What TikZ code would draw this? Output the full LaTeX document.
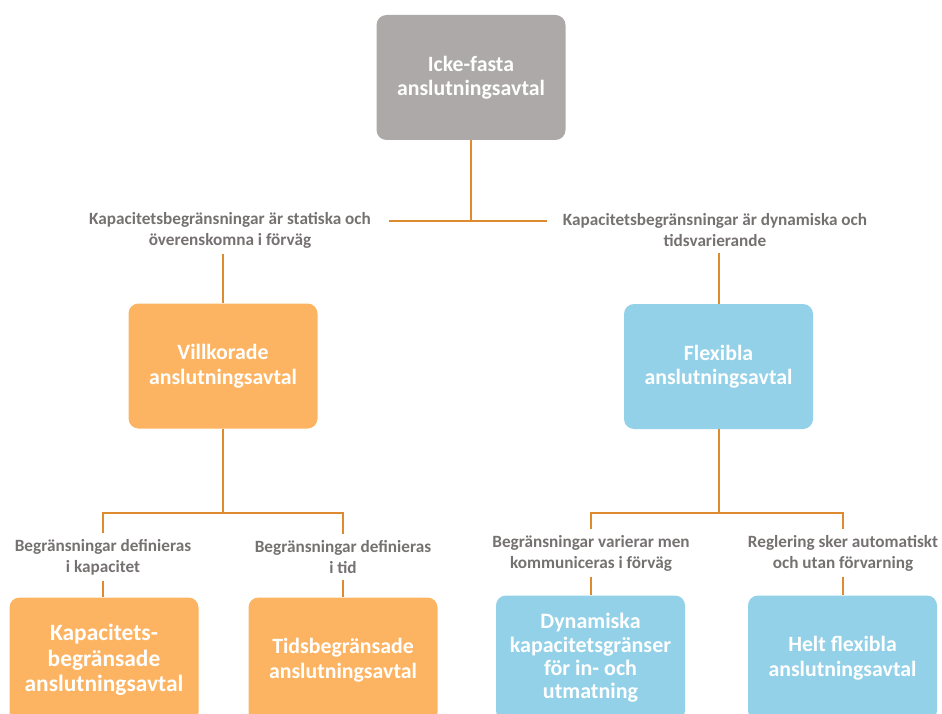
\documentclass[tikz,border=0pt]{standalone}
\usepackage{fontspec}
\setmainfont{Carlito}
\definecolor{boxgray}{HTML}{ADA9A8}
\definecolor{boxorange}{HTML}{FDB462}
\definecolor{boxblue}{HTML}{93D1E9}
\definecolor{linkorange}{HTML}{DE8A30}
\definecolor{labgray}{HTML}{767171}
\tikzset{
  box/.style={rectangle, rounded corners=10pt, draw=none, text=white, align=center,
    font=\bfseries\fontsize{21.8}{24.5}\selectfont, minimum width=189pt, minimum height=125pt, inner sep=0pt},
  lab/.style={align=center, text=labgray, font=\bfseries\fontsize{17.2}{21}\selectfont, inner sep=6pt},
  link/.style={draw=linkorange, line width=2pt}
}
\begin{document}
\begin{tikzpicture}[x=1pt,y=-1pt]
\useasboundingbox (0,0) rectangle (942,714);
\clip (0,0) rectangle (942,714);
% top
\node[box, fill=boxgray] (top) at (471,77.5) {Icke-fasta\\anslutningsavtal};
\node[lab] (labL) at (230,230) {Kapacitetsbegränsningar är statiska och\\överenskomna i förväg};
\node[lab] (labR) at (715,230) {Kapacitetsbegränsningar är dynamiska och\\tidsvarierande};
\node[box, fill=boxorange] (vill) at (223,366) {Villkorade\\anslutningsavtal};
\node[box, fill=boxblue] (flex) at (718.5,366.5) {Flexibla\\anslutningsavtal};
\coordinate (j0) at (471,221);
\coordinate (jL) at (223,513);
\coordinate (jR) at (718.5,513);
% bottom labels
\node[lab] (l1) at (103,557) {Begränsningar definieras\\i kapacitet};
\node[lab] (l2) at (343,557) {Begränsningar definieras\\i tid};
\node[lab] (l3) at (591,553) {Begränsningar varierar men\\kommuniceras i förväg};
\node[lab] (l4) at (843,553) {Reglering sker automatiskt\\och utan förvarning};
% bottom boxes
\node[box, fill=boxorange, font=\bfseries\fontsize{23.4}{25.5}\selectfont] (kap) at (104,660) {Kapacitets-\\begränsade\\anslutningsavtal};
\node[box, fill=boxorange] (tids) at (343,660) {Tidsbegränsade\\anslutningsavtal};
\node[box, fill=boxblue, font=\bfseries\fontsize{22}{23.3}\selectfont] (dyn) at (590.5,658) {Dynamiska\\kapacitetsgränser\\för in- och\\utmatning};
\node[box, fill=boxblue] (helt) at (842.5,658) {Helt flexibla\\anslutningsavtal};
% connectors
\draw[link] (top.south) -- (j0);
\draw[link] ([xshift=12pt]labL.east |- j0) -- ([xshift=-10pt]labR.west |- j0);
\draw[link] (labL.south -| vill.north) -- (vill.north);
\draw[link] (labR.south -| flex.north) -- (flex.north);
\draw[link] (vill.south) -- (jL);
\draw[link] (flex.south) -- (jR);
\draw[link] (l1.north) -- (l1.north |- jL) -- (l2.north |- jL) -- (l2.north);
\draw[link] (l3.north) -- (l3.north |- jR) -- (l4.north |- jR) -- (l4.north);
\draw[link] (l1.south) -- (kap.north -| l1.south);
\draw[link] (l2.south) -- (tids.north);
\draw[link] (l3.south) -- (dyn.north -| l3.south);
\draw[link] (l4.south) -- (helt.north -| l4.south);
\end{tikzpicture}
\end{document}
